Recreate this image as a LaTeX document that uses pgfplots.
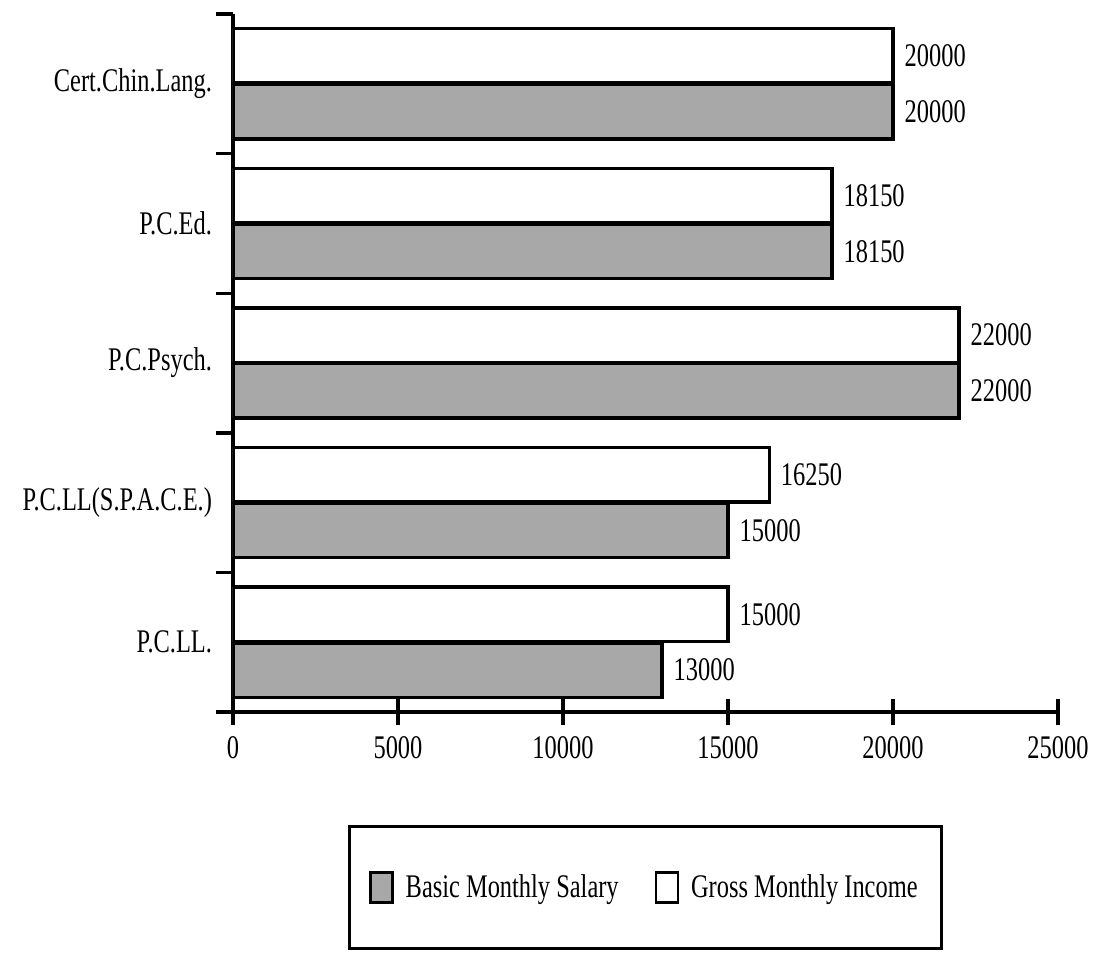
\documentclass[border=0pt]{standalone}
\usepackage{fontspec}
\setmainfont{Liberation Serif}[FakeStretch=0.74]
\usepackage{pgfplots}
\pgfplotsset{compat=1.18}
\begin{document}
\begin{tikzpicture}[font=\fontsize{16.5}{19}\selectfont]
\begin{axis}[
  scale only axis, width=412.5pt, height=349pt,
  xmin=0, xmax=25000, ymin=-0.5, ymax=4.5,
  axis x line=bottom, axis y line=left,
  axis line style={-, line width=1.7pt},
  scaled x ticks=false,
  xtick={0,5000,10000,15000,20000,25000},
  xticklabels={0,5000,10000,15000,20000,25000},
  xticklabel style={yshift=-2pt},
  ytick={0,1,2,3,4},
  yticklabels={P.C.LL., P.C.LL(S.P.A.C.E.), P.C.Psych., P.C.Ed., Cert.Chin.Lang.},
  yticklabel style={xshift=6pt},
  minor ytick={-0.5,0.5,1.5,2.5,3.5,4.5},
  tick align=center, major tick length=13pt, minor tick length=8.5pt,
  major y tick style={draw=none},
  tick style={line width=1.7pt, black},
  xbar, bar width=0.39,
  point meta=explicit symbolic,
  nodes near coords={\pgfplotspointmeta},
  every node near coord/.append style={anchor=west, inner sep=0pt, xshift=5pt, font=\fontsize{16.5}{19}\selectfont},
  legend columns=2,
  legend style={at={(0.5,0)}, anchor=north, yshift=-56.5pt, draw=black, line width=1.5pt,
    inner xsep=10pt, inner ysep=22pt, font=\fontsize{16.5}{19}\selectfont,
    /tikz/every odd column/.append style={column sep=4pt},
    /tikz/every even column/.append style={column sep=16pt}},
  legend image code/.code={\draw[#1, line width=1.2pt] (0pt,-7.5pt) rectangle (11pt,7.5pt);},
]
\addplot[fill=gray!68, draw=black, line width=1.7pt, bar shift=-0.2]
  coordinates {(13000,0)[13000] (15000,1)[15000] (22000,2)[22000] (18150,3)[18150] (20000,4)[20000]};
\addplot[fill=white, draw=black, line width=1.7pt, bar shift=0.2]
  coordinates {(15000,0)[15000] (16250,1)[16250] (22000,2)[22000] (18150,3)[18150] (20000,4)[20000]};
\legend{Basic Monthly Salary, Gross Monthly Income}
\end{axis}
\pgfresetboundingbox
\path (current axis.south west) ++(-116.5pt,356pt) rectangle ++(549pt,-477.5pt);
\end{tikzpicture}
\end{document}
